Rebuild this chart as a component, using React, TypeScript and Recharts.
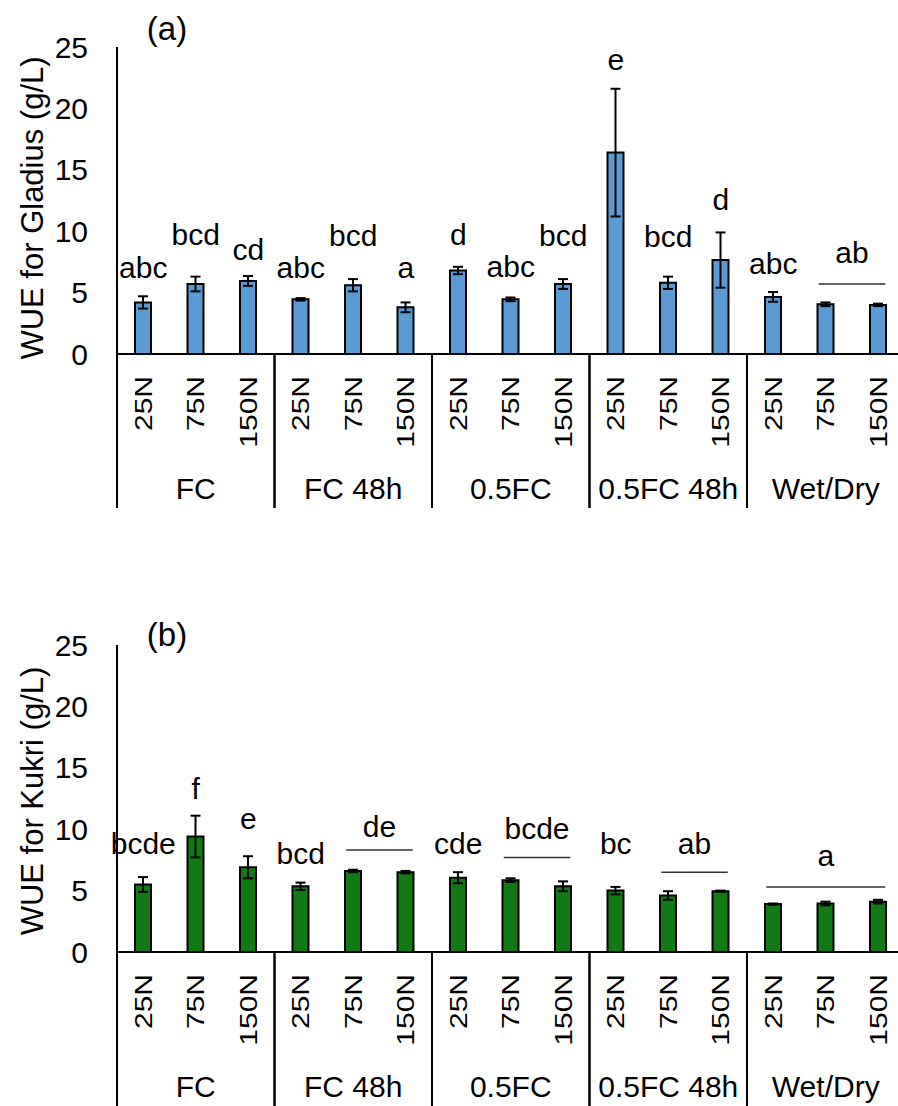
import React from "react";
import {
  BarChart,
  Bar,
  XAxis,
  YAxis,
  ErrorBar,
  ReferenceDot,
  ReferenceLine,
} from "recharts";

const FONT = '"Liberation Sans", Arial, Helvetica, sans-serif';

// water regimes and N rates
const regimes = ["FC", "FC 48h", "0.5FC", "0.5FC 48h", "Wet/Dry"];
const rates = ["25N", "75N", "150N"];
const yTicks = [0, 5, 10, 15, 20, 25];

// (a) Gladius
const gladiusWue = [4.2, 5.7, 5.95, 4.45, 5.6, 3.8, 6.8, 4.45, 5.7, 16.4, 5.8, 7.65, 4.65, 4.05, 4.0];
const gladiusSe = [0.5, 0.6, 0.4, 0.1, 0.5, 0.4, 0.3, 0.15, 0.4, 5.2, 0.5, 2.25, 0.4, 0.15, 0.1];
const gladiusLetters = ["abc", "bcd", "cd", "abc", "bcd", "a", "d", "abc", "bcd", "e", "bcd", "d", "abc", "", ""];
const gladiusLetterAt = [6.2, 8.9, 7.65, 6.2, 8.8, 6.2, 8.9, 6.3, 8.8, 23.1, 8.7, 11.7, 6.5, 0, 0];
const gladiusShared = [{ first: 13, last: 14, letter: "ab", lineAt: 5.7, textAt: 7.4 }];

// (b) Kukri
const kukriWue = [5.5, 9.4, 6.9, 5.35, 6.6, 6.5, 6.05, 5.85, 5.35, 5.0, 4.6, 4.95, 3.9, 3.95, 4.1];
const kukriSe = [0.6, 1.7, 0.9, 0.3, 0.1, 0.1, 0.45, 0.15, 0.4, 0.3, 0.35, 0.05, 0.05, 0.15, 0.15];
const kukriLetters = ["bcde", "f", "e", "bcd", "", "", "cde", "", "", "bc", "", "", "", "", ""];
const kukriLetterAt = [7.95, 12.5, 10.05, 7.15, 0, 0, 8.0, 0, 0, 8.0, 0, 0, 0, 0, 0];
const kukriShared = [
  { first: 4, last: 5, letter: "de", lineAt: 8.3, textAt: 9.4 },
  { first: 7, last: 8, letter: "bcde", lineAt: 7.7, textAt: 9.2 },
  { first: 10, last: 11, letter: "ab", lineAt: 6.5, textAt: 7.95 },
  { first: 12, last: 14, letter: "a", lineAt: 5.3, textAt: 7.0 },
];

const categories = regimes.flatMap((r) => rates.map((n) => `${r}|${n}`));

// N rate rotated, regime name under the middle bar, dividers between groups
const CategoryTick = (props: any) => {
  const { x, y, payload, index } = props;
  const half = payload && payload.offset ? payload.offset : 26.25;
  const [regime, rate] = String(payload.value).split("|");
  const pos = index % 3;
  return (
    <g>
      <text
        transform={`translate(${x},${y + 22}) rotate(-90) scale(1,0.78)`}
        textAnchor="end"
        dy="0.36em"
        fontSize={30}
        fontFamily={FONT}
        fill="#000"
      >
        {rate}
      </text>
      {pos === 0 && (
        <line x1={x - half} x2={x - half} y1={y} y2={y + 154} stroke="#000" strokeWidth={2} />
      )}
      {pos === 2 && (
        <line x1={x + half} x2={x + half} y1={y} y2={y + 154} stroke="#000" strokeWidth={2} />
      )}
      {pos === 1 && (
        <text x={x} y={y + 145} textAnchor="middle" fontSize={30} fontFamily={FONT} fill="#000">
          {regime}
        </text>
      )}
    </g>
  );
};

interface PanelProps {
  top: number;
  tag: string;
  tagY: number;
  title: string;
  titleY: number;
  fill: string;
  values: number[];
  errors: number[];
  letters: string[];
  letterAt: number[];
  shared: { first: number; last: number; letter: string; lineAt: number; textAt: number }[];
}

function Panel({ top, tag, tagY, title, titleY, fill, values, errors, letters, letterAt, shared }: PanelProps) {
  const data = categories.map((key, i) => ({ key, wue: values[i], se: errors[i] }));

  return (
    <div style={{ position: "absolute", left: 0, top, width: 910, height: 520 }}>
      <BarChart
        width={910}
        height={520}
        data={data}
        margin={{ top: 47, right: 5.5, left: 0, bottom: 0 }}
        barSize={16}
      >
        <XAxis
          dataKey="key"
          interval={0}
          height={166}
          tickLine={false}
          tickSize={0}
          tickMargin={0}
          axisLine={{ stroke: "#000", strokeWidth: 2 }}
          tick={CategoryTick}
        />
        <YAxis
          width={117}
          domain={[0, 25]}
          ticks={yTicks}
          tickLine={false}
          tickSize={0}
          tickMargin={29}
          axisLine={{ stroke: "#000", strokeWidth: 2 }}
          tick={{ fontSize: 30, fill: "#000", fontFamily: FONT }}
        />
        <Bar dataKey="wue" fill={fill} stroke="#000" strokeWidth={2} isAnimationActive={false}>
          <ErrorBar dataKey="se" width={5} stroke="#000" strokeWidth={2} />
        </Bar>
        {letters.map((l, i) =>
          l ? (
            <ReferenceDot
              key={`l-${i}`}
              x={categories[i]}
              y={letterAt[i]}
              r={0}
              shape={(p: any) => (
                <text x={p.cx} y={p.cy} textAnchor="middle" fontSize={30} fontFamily={FONT} fill="#000">
                  {l}
                </text>
              )}
            />
          ) : null
        )}
        {shared.map((g, i) => (
          <ReferenceLine
            key={`line-${i}`}
            segment={[
              { x: categories[g.first], y: g.lineAt },
              { x: categories[g.last], y: g.lineAt },
            ]}
            shape={(p: any) => (
              <line x1={p.x1 - 7} x2={p.x2 + 7} y1={p.y1} y2={p.y2} stroke="#333" strokeWidth={1.5} />
            )}
          />
        ))}
        {shared.map((g, i) => (
          <ReferenceLine
            key={`txt-${i}`}
            segment={[
              { x: categories[g.first], y: g.textAt },
              { x: categories[g.last], y: g.textAt },
            ]}
            shape={(p: any) => (
              <text
                x={(p.x1 + p.x2) / 2}
                y={p.y1}
                textAnchor="middle"
                fontSize={30}
                fontFamily={FONT}
                fill="#000"
              >
                {g.letter}
              </text>
            )}
          />
        ))}
      </BarChart>
      <svg
        width={910}
        height={520}
        style={{ position: "absolute", left: 0, top: 0, pointerEvents: "none" }}
      >
        <text x={167} y={tagY} textAnchor="middle" fontSize={33} fontFamily={FONT} fill="#000">
          {tag}
        </text>
        <text
          transform={`translate(43,${titleY}) rotate(-90)`}
          textAnchor="middle"
          fontSize={31}
          fontFamily={FONT}
          fill="#000"
        >
          {title}
        </text>
      </svg>
    </div>
  );
}

export default function App() {
  return (
    <div
      style={{
        position: "absolute",
        left: 0,
        top: 0,
        width: 898,
        height: 1106,
        overflow: "hidden",
        background: "#fff",
      }}
    >
      <Panel
        top={0}
        tag="(a)"
        tagY={40}
        title="WUE for Gladius (g/L)"
        titleY={208}
        fill="#5B9BD5"
        values={gladiusWue}
        errors={gladiusSe}
        letters={gladiusLetters}
        letterAt={gladiusLetterAt}
        shared={gladiusShared}
      />
      <Panel
        top={598}
        tag="(b)"
        tagY={48}
        title="WUE for Kukri (g/L)"
        titleY={203}
        fill="#127A12"
        values={kukriWue}
        errors={kukriSe}
        letters={kukriLetters}
        letterAt={kukriLetterAt}
        shared={kukriShared}
      />
    </div>
  );
}
